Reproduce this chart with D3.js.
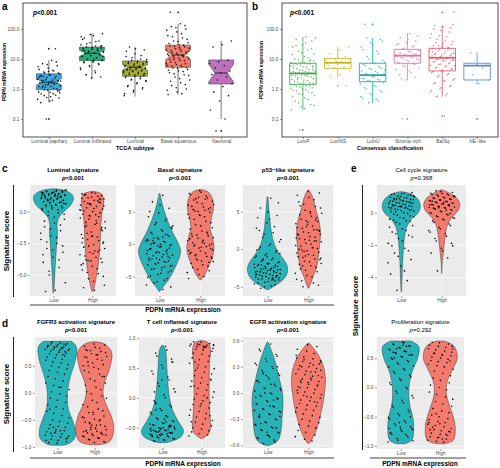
<!DOCTYPE html>
<html><head><meta charset="utf-8">
<script src="https://cdn.jsdelivr.net/npm/d3@7"></script>
<style>body{margin:0;background:#fff}svg{display:block}text{font-family:"Liberation Sans",Arial,Helvetica,sans-serif}</style>
</head><body><script>
const P = s => s.trim().split(/\s+/).map(Number);

// ---------- Panel a: TCGA subtype ----------
const aCats = ["Luminal papillary","Luminal infiltrated","Luminal","Basal squamous","Neuronal"];
const aColors = ["#3AA9E0","#22AF7D","#A4AD2B","#F47B6B","#BE70BE"];
const aQ1 = [0.95, 8.8, 2.65, 5.3, 1.47];
const aMed = [1.7, 15.5, 5.3, 13.6, 3.4];
const aQ3 = [3.2, 25, 8.6, 29, 9.3];
const aLo = [0.35, 2.3, 0.56, 0.65, 0.1];
const aHi = [9, 73, 25, 147, 40];
const aNotchLo = [1.35, 12, 4.3, 9.5, 1.7];
const aNotchHi = [2.2, 19.5, 6.4, 19.5, 6.8];
const aOut = [[22,0.1],[],[],[360],[0.04]];
const aPts = [
 "9 7 6 5 4.5 4 3.5 3.2 3 2.8 2.6 2.4 2.2 2.0 1.9 1.8 1.7 1.6 1.5 1.4 1.3 1.2 1.1 1.0 0.9 0.8 0.7 0.6 0.5 0.4 0.35 22 0.1 2.1 1.6 1.25 0.85 3.8 2.5 1.45 1.15 0.75 0.55 1.95 8 6.5 5.5 4.2 3.7 3.4 2.9 2.7 2.3 2.05 1.85 1.75 1.65 1.55 1.35 1.2 1.05 0.95 0.88 0.78 0.68 0.62 0.52 0.45 0.42 2.6 1.9 1.5",
 "70 60 50 40 35 30 27 25 23 21 20 19 18 17 16 15 14 13 12 11 10 9 8.5 8 7 6 5 4 3 2.5 2.3 45 22 16 12 9.5 18.5 14.5 65 55 38 32 28 24 22 20 18 17 16 15 14 13 12 11 10 9 8 7.5 6.5 5.5 4.5 3.5 3 26 21",
 "25 20 15 12 10 9 8 7.5 7 6.5 6 5.5 5.2 5 4.8 4.5 4.2 4 3.8 3.5 3.2 3 2.8 2.6 2.4 2.2 2 1.8 1.5 1.2 1 0.8 0.6 5.8 4.4 3.3 22 18 13 11 9.5 8.5 7.8 7.2 6.8 6.2 5.6 5.4 5.1 4.9 4.6 4.3 4.1 3.9 3.6 3.4 3.1 2.9 2.7 2.5 2.1 1.9 1.6 1.3 1.1 0.9 0.7",
 "150 120 100 80 60 50 40 35 30 27 25 22 20 18 16 15 14 13 12 11 10 9 8 7 6.5 6 5.5 5 4.5 4 3.5 3 2.5 2 1.6 1.3 1 0.8 0.65 13.5 9.5 18 24 360 130 110 90 70 55 45 38 33 29 26 23 21 19 17 15.5 14.5 13 12.5 11.5 10.5 9.8 8.8 7.5 7 6.2 5.8 5.2 4.8 4.2 3.8 3.2 2.8 2.2 1.8 1.4 1.1 0.9 0.7",
 "40 30 25 9 8 7 6 5 4 3.5 3 2.5 2 1.5 1.2 0.8 0.6 0.4 0.2 0.1 0.04"
];

// ---------- Panel b: Consensus classification ----------
const bCats = ["LumP","LumNS","LumU","Stroma\u2212rich","Ba/Sq","NE\u2212like"];
const bColors = ["#3DAA47","#C9B21E","#17AEAE","#DA77A3","#E45A6A","#5F8CD8"];
const bQ1 = [1.43, 4.9, 1.75, 7.2, 4.0, 2.0];
const bMed = [3.3, 7.5, 2.9, 12.9, 11, 6.0];
const bQ3 = [7.2, 10.5, 7.2, 21, 22.7, 7.2];
const bLo = [0.2, 2.4, 0.34, 2.0, 0.55, 1.4];
const bHi = [55, 25, 50, 72, 136, 16.7];
const bOut = [[0.043],[1.3],[143],[0.1],[360,0.125],[0.1]];
const bPts = [
 "55 45 40 30 25 20 18 15 12 10 9 8 7.5 7 6.5 6 5.5 5 4.5 4.2 4 3.8 3.5 3.3 3 2.8 2.6 2.4 2.2 2 1.8 1.6 1.5 1.4 1.3 1.2 1.1 1 0.9 0.8 0.7 0.6 0.5 0.4 0.3 0.25 0.2 3.1 2.1 5.2 1.7 6.2 8.5 0.043 50 35 28 22 16 14 11 9.5 8.8 7.8 7.2 6.8 6.3 5.8 5.3 4.8 4.4 4.1 3.9 3.6 3.4 3.2 2.9 2.7 2.5 2.3 2.1 1.9 1.7 1.55 1.45 1.35 1.25 1.15 1.05 0.95 0.85 0.75 0.65 0.55 0.45 0.35 0.28 0.22",
 "25 20 15 12 10 9 8 7.5 7 6.5 6 5.5 5 4 3 2.5 1.3 8.2 7.2",
 "50 40 30 20 15 10 8 7 6 5 4.5 4 3.5 3 2.8 2.5 2.2 2 1.8 1.5 1.2 1 0.8 0.6 0.5 0.4 0.35 3.2 2.7 143 45 35 25 18 12 9 7.5 6.5 5.5 4.8 4.2 3.8 3.3 3 2.6 2.3 2.1 1.9 1.6 1.3 1.1 0.9 0.7 0.55 0.45",
 "70 50 40 35 30 25 22 20 18 16 15 14 13 12 11 10 9 8 7 6 5 4 3 2.5 2 13.5 12.5 0.1 60 45 32 27 23 19 17 15.5 14.5 13 12 11 10.5 9.5 8.5 7.5 6.5 5.5 4.5 3.5 2.2",
 "140 120 100 80 60 50 40 35 30 25 22 20 18 16 15 14 13 12 11 10 9.5 9 8.5 8 7 6.5 6 5.5 5 4.5 4 3.5 3 2.5 2 1.8 1.5 1.2 1 0.8 0.6 0.55 11.5 10.5 17 24 28 360 0.125 130 110 90 70 55 45 38 32 27 23 21 19 17 15.5 14.5 13.5 12.5 11 10 9.2 8.7 8.2 7.5 6.8 6.2 5.8 5.2 4.8 4.2 3.8 3.2 2.8 2.2 1.9 1.6 1.3 1.1 0.9 0.7 0.58",
 "16 7 6.5 6 5 3 2 1.5"
];

// ---------- Panels c, d, e: signature scores ----------
const groups = ["Low","High"];
const groupColors = ["#25B3B7","#F47A6D"];
const sigNames = ["Luminal signature","Basal signature","p53\u2212like signature","Cell cycle signature",
  "FGFR3 activation signature","T cell inflamed signature","EGFR acitivation signature","Proliferation signature"];
const sigP = ["<0.001","<0.001","<0.001","=0.368","<0.001","<0.001","<0.001","=0.292"];
const sigDomain = [[-6.65,2.1],[-8,9.1],[-6.24,8.56],[-5.15,1.71],[-1.02,1.03],[-0.84,1.02],[-0.63,0.64],[-1.05,0.86]];
const sigTicks = [[-5,-2.5,0],[-5,0,5],[-5,0,5],[-4,-2,0],[-1,-0.5,0,0.5],[-0.5,0,0.5,1],[-0.6,-0.3,0,0.3,0.6],[-1,-0.5,0,0.5]];
const sigTickFmt = [".1f","d","d","d",".1f",".1f",".1f",".1f"];
// violin outline: [score, relative half-width]
const lowShape = [
 [[1.8,0.02],[1.7,0.5],[1.4,0.9],[1.1,1.0],[0.6,0.9],[0.1,0.6],[-0.4,0.3],[-1,0.18],[-1.6,0.2],[-2.5,0.16],[-3.5,0.12],[-4.5,0.08],[-5.5,0.05],[-6.4,0.02]],
 [[7.8,0.02],[6,0.15],[4,0.35],[2,0.62],[0,0.95],[-1,1.05],[-2,1.0],[-4,0.72],[-5.5,0.45],[-6.5,0.2],[-7.3,0.02]],
 [[7,0.02],[5,0.08],[3,0.15],[1,0.3],[0,0.45],[-1,0.7],[-2,0.95],[-3,1.0],[-4,0.8],[-4.8,0.4],[-5.4,0.03]],
 [[1.3,0.05],[1.15,0.5],[0.8,0.85],[0.4,0.95],[0,0.85],[-0.4,0.5],[-0.8,0.3],[-1.2,0.2],[-2,0.12],[-3,0.07],[-4,0.04],[-4.9,0.01]],
 [[0.95,0.7],[0.85,0.95],[0.6,0.9],[0.3,0.65],[0,0.5],[-0.3,0.55],[-0.5,0.75],[-0.7,0.9],[-0.85,0.85],[-0.95,0.5],[-0.97,0.2]],
 [[0.88,0.03],[0.8,0.15],[0.5,0.22],[0.2,0.28],[0,0.35],[-0.2,0.5],[-0.4,0.8],[-0.55,1.05],[-0.66,0.9],[-0.75,0.2]],
 [[0.58,0.03],[0.45,0.25],[0.3,0.45],[0.15,0.6],[0,0.75],[-0.15,0.77],[-0.3,0.72],[-0.45,0.66],[-0.55,0.5],[-0.6,0.1]],
 [[0.79,0.5],[0.7,0.9],[0.5,0.85],[0.3,0.6],[0.1,0.45],[-0.1,0.4],[-0.3,0.45],[-0.5,0.6],[-0.7,0.65],[-0.9,0.55],[-0.96,0.2]]
];
const highShape = [
 [[1.6,0.05],[1.4,0.45],[1.0,0.55],[0.5,0.55],[0,0.48],[-1,0.42],[-2.5,0.38],[-4,0.3],[-5,0.2],[-6,0.08],[-6.3,0.02]],
 [[8.4,0.05],[8.0,0.4],[7,0.6],[5.5,0.65],[4,0.55],[2.5,0.48],[1,0.6],[-0.5,0.68],[-2,0.6],[-3.5,0.4],[-4.8,0.2],[-5.5,0.03]],
 [[7.9,0.03],[7,0.2],[5,0.4],[3.5,0.55],[2,0.6],[0.5,0.55],[-1,0.5],[-2.5,0.4],[-3.5,0.25],[-4.5,0.12],[-5.2,0.02]],
 [[1.4,0.05],[1.2,0.4],[0.9,0.75],[0.5,0.9],[0.1,0.8],[-0.3,0.5],[-0.7,0.3],[-1.2,0.2],[-2,0.12],[-2.7,0.06],[-3.2,0.02],[-3.75,0.01]],
 [[0.94,0.1],[0.9,0.5],[0.75,0.85],[0.45,0.75],[0.2,0.5],[0,0.42],[-0.2,0.55],[-0.45,0.85],[-0.7,0.95],[-0.9,0.75],[-0.96,0.2]],
 [[0.96,0.05],[0.92,0.35],[0.8,0.45],[0.6,0.4],[0.3,0.38],[0,0.38],[-0.3,0.42],[-0.5,0.45],[-0.6,0.35],[-0.68,0.05]],
 [[0.57,0.03],[0.45,0.45],[0.3,0.75],[0.15,0.85],[0,0.8],[-0.15,0.7],[-0.3,0.55],[-0.45,0.35],[-0.55,0.12],[-0.58,0.02]],
 [[0.79,0.2],[0.7,0.7],[0.5,0.85],[0.3,0.6],[0.1,0.35],[-0.1,0.3],[-0.3,0.45],[-0.5,0.65],[-0.7,0.75],[-0.9,0.65],[-0.96,0.2]]
];
const lowPts = [
 "1.7 1.6 1.6 1.5 1.5 1.4 1.4 1.3 1.3 1.2 1.2 1.1 1.1 1.0 1.0 0.9 0.9 0.8 0.7 0.7 0.6 0.5 0.4 0.3 0.2 0.1 -0.1 -0.3 -0.6 -0.9 -1.2 -1.5 -1.9 -2.2 -2.5 -2.9 -3.2 -3.6 -4.0 -4.4 -5.0 -5.6 -6.2 -6.3 1.65 1.45 1.25 1.05 0.85 0.65 1.55 1.35 1.15 0.95 1.72 1.62 1.58 1.52 1.48 1.42 1.38 1.32 1.28 1.22 1.18 1.12 1.08 1.02 0.98 0.92 0.88 0.82 0.78 0.72 0.68 0.62 0.58 0.52 0.45 0.35 0.25 0.15 0.0 -0.2 -0.45 -0.75 -1.05 -1.35 -1.7 -2.05 -2.4 -2.7 -3.0 -3.4 -3.8 -4.7 1.68 1.36 1.04 0.76 0.48 1.5 1.2 0.9",
 "7.5 6.5 5.5 4.8 4.2 3.6 3.0 2.6 2.2 1.8 1.4 1.0 0.7 0.4 0.1 -0.2 -0.5 -0.8 -1.1 -1.4 -1.7 -2.0 -2.3 -2.6 -2.9 -3.2 -3.5 -3.8 -4.1 -4.5 -4.9 -5.3 -5.8 -6.3 -7.0 0.5 -0.6 -1.3 -2.2 1.5 -3.0 2.4 -4.0 0.0 -1.9 -0.3 -1.0 -2.7 0.9 -3.4 6.0 5.0 3.9 3.3 2.8 2.0 1.6 1.2 0.8 0.6 0.3 0.2 -0.1 -0.4 -0.7 -0.9 -1.2 -1.5 -1.6 -1.8 -2.1 -2.4 -2.5 -2.8 -3.1 -3.3 -3.6 -3.9 -4.3 -4.7 -5.1 -5.6 -6.0 -6.6 -0.05 -0.75 -1.45 -2.15 0.45 1.1",
 "6.8 5.5 4.5 3.5 2.8 2.2 1.6 1.0 0.5 0.0 -0.4 -0.8 -1.1 -1.4 -1.6 -1.8 -2.0 -2.2 -2.4 -2.6 -2.7 -2.8 -3.0 -3.1 -3.2 -3.4 -3.5 -3.6 -3.8 -3.9 -4.0 -4.2 -4.4 -4.6 -4.9 -5.2 -2.3 -1.9 -3.3 -2.9 -1.3 -0.6 4.0 2.5 -3.7 -2.5 -3.05 -4.1 -2.1 6.2 5.0 4.2 3.0 2.0 1.3 0.7 0.3 -0.2 -0.6 -0.9 -1.2 -1.5 -1.7 -1.9 -2.05 -2.15 -2.3 -2.45 -2.55 -2.65 -2.75 -2.85 -2.95 -3.05 -3.15 -3.25 -3.35 -3.45 -3.55 -3.65 -3.75 -3.85 -3.95 -4.1 -4.3 -4.5 -4.75 -5.0 -2.0 -2.6 -3.0 -3.5 -1.0 -0.1 -4.0",
 "1.2 1.15 1.1 1.0 0.95 0.9 0.85 0.8 0.75 0.7 0.65 0.6 0.55 0.5 0.45 0.4 0.35 0.3 0.25 0.2 0.1 0.0 -0.1 -0.2 -0.3 -0.4 -0.5 -0.6 -0.8 -1.0 -1.2 -1.4 -1.6 -1.9 -2.2 -2.5 -2.9 -3.3 -3.8 -4.2 -4.8 1.05 0.72 0.42 0.15 0.88 0.58 0.33 0.05 1.25 1.18 1.12 1.08 1.02 0.98 0.92 0.88 0.82 0.78 0.72 0.68 0.62 0.58 0.52 0.48 0.42 0.38 0.32 0.28 0.22 0.18 0.12 0.05 -0.05 -0.15 -0.25 -0.35 -0.45 -0.55 -0.7 -0.9 -1.1 -1.3 -1.5 -1.75 -2.05 -2.35 -2.7 -3.1 -3.6 0.8 0.6 0.4 0.2",
 "0.92 0.9 0.88 0.86 0.84 0.82 0.8 0.78 0.75 0.72 0.68 0.64 0.6 0.55 0.5 0.44 0.38 0.3 0.22 0.14 0.06 -0.02 -0.1 -0.18 -0.26 -0.34 -0.42 -0.5 -0.56 -0.62 -0.66 -0.7 -0.74 -0.78 -0.82 -0.86 -0.9 -0.93 0.87 0.7 -0.64 -0.8 0.1 -0.3 0.76 -0.72 -0.88 0.83 0.93 0.91 0.89 0.87 0.85 0.83 0.81 0.79 0.77 0.73 0.7 0.66 0.62 0.57 0.52 0.47 0.41 0.34 0.26 0.18 0.1 0.02 -0.06 -0.14 -0.22 -0.3 -0.38 -0.46 -0.53 -0.59 -0.64 -0.68 -0.72 -0.76 -0.8 -0.84 -0.88 -0.92 0.9 0.85 0.8 -0.7 -0.75 -0.85",
 "0.86 0.75 0.65 0.55 0.45 0.35 0.25 0.15 0.05 -0.05 -0.12 -0.18 -0.24 -0.3 -0.34 -0.38 -0.42 -0.45 -0.48 -0.5 -0.52 -0.54 -0.56 -0.58 -0.6 -0.62 -0.64 -0.66 -0.68 -0.7 -0.72 -0.46 -0.55 -0.61 -0.4 -0.2 0.6 0.3 -0.65 -0.53 -0.57 -0.49 -0.36 0.1 -0.59 -0.63 -0.51 0.8 0.7 0.6 0.5 0.4 0.3 0.2 0.1 0.0 -0.08 -0.15 -0.21 -0.27 -0.32 -0.36 -0.4 -0.43 -0.46 -0.49 -0.51 -0.53 -0.55 -0.57 -0.59 -0.61 -0.63 -0.65 -0.67 -0.69 -0.71 -0.73 -0.47 -0.52 -0.56 -0.6 -0.64 -0.68 -0.5 -0.54 -0.58 -0.62 -0.44 -0.3 -0.1",
 "0.56 0.48 0.42 0.36 0.32 0.28 0.24 0.2 0.16 0.12 0.08 0.05 0.02 -0.01 -0.04 -0.07 -0.1 -0.13 -0.16 -0.19 -0.22 -0.25 -0.28 -0.31 -0.34 -0.37 -0.4 -0.43 -0.46 -0.49 -0.52 -0.56 0.0 -0.2 0.1 -0.35 0.3 -0.45 0.14 -0.08 0.22 -0.27 -0.5 0.5 0.44 0.39 0.34 0.3 0.26 0.22 0.18 0.14 0.1 0.06 0.03 0.0 -0.03 -0.06 -0.09 -0.12 -0.15 -0.18 -0.21 -0.24 -0.27 -0.3 -0.33 -0.36 -0.39 -0.42 -0.45 -0.48 -0.51 -0.54 -0.58 0.05 -0.15 -0.25 -0.4 0.2 -0.05",
 "0.76 0.73 0.7 0.67 0.64 0.61 0.58 0.55 0.52 0.48 0.44 0.4 0.35 0.3 0.24 0.18 0.12 0.05 -0.02 -0.1 -0.18 -0.26 -0.34 -0.42 -0.48 -0.54 -0.6 -0.65 -0.7 -0.75 -0.8 -0.85 -0.9 -0.93 0.62 0.5 -0.5 -0.68 -0.78 0.7 0.66 -0.72 0.77 0.74 0.71 0.68 0.65 0.62 0.59 0.56 0.53 0.5 0.46 0.42 0.37 0.32 0.27 0.21 0.15 0.08 0.0 -0.06 -0.14 -0.22 -0.3 -0.38 -0.45 -0.51 -0.57 -0.62 -0.67 -0.72 -0.77 -0.82 -0.87 -0.91 0.72 0.6 0.55 -0.6 -0.7 -0.8"
];
const highPts = [
 "1.5 1.4 1.2 1.1 1.0 0.9 0.8 0.7 0.6 0.5 0.4 0.3 0.2 0.0 -0.2 -0.4 -0.6 -0.8 -1.0 -1.2 -1.4 -1.6 -1.8 -2.0 -2.2 -2.4 -2.6 -2.8 -3.0 -3.2 -3.4 -3.6 -3.8 -4.0 -4.3 -4.6 -4.9 -5.3 -5.8 -6.2 1.3 0.95 0.55 0.1 -0.9 -1.7 -2.5 -3.3 -4.1 0.75 -0.3 -1.3 1.45 1.35 1.25 1.15 1.05 0.85 0.65 0.45 0.25 0.05 -0.1 -0.35 -0.5 -0.7 -1.1 -1.5 -1.9 -2.1 -2.3 -2.7 -2.9 -3.1 -3.5 -3.7 -3.9 -4.2 -4.5 -4.8 -5.1 -5.5 -6.0 1.0 0.6 0.15 -0.25 -0.85 -1.25 -1.95 -2.45 -3.15 -3.85",
 "8.2 7.8 7.4 7.0 6.6 6.2 5.8 5.4 5.0 4.6 4.2 3.8 3.3 2.8 2.3 1.8 1.4 1.0 0.6 0.2 -0.2 -0.6 -1.0 -1.4 -1.8 -2.2 -2.6 -3.0 -3.4 -3.9 -4.4 -5.0 6.8 5.6 4.4 0.8 -0.4 -1.6 -0.9 0.3 1.2 -2.8 7.2 6.0 5.2 -0.1 -2.0 8.0 7.6 7.1 6.4 6.1 5.7 5.3 4.9 4.5 4.0 3.5 3.0 2.5 2.0 1.6 1.2 0.9 0.5 0.1 -0.3 -0.7 -1.1 -1.5 -1.9 -2.3 -2.7 -3.2 -3.6 -4.1 -4.7 -5.3 6.9 5.1 0.0 -0.5 -1.3 1.5 -2.5",
 "7.7 7.2 6.6 6.0 5.5 5.0 4.6 4.2 3.8 3.4 3.1 2.8 2.5 2.2 1.9 1.6 1.3 1.0 0.7 0.4 0.1 -0.2 -0.5 -0.8 -1.1 -1.4 -1.7 -2.0 -2.4 -2.8 -3.2 -3.7 -4.2 -4.8 3.6 2.0 1.1 -0.3 -1.2 4.8 5.8 2.6 3.0 1.5 0.2 -2.2 7.5 6.9 6.3 5.7 5.2 4.8 4.4 4.0 3.7 3.3 2.9 2.6 2.3 2.0 1.7 1.4 1.1 0.8 0.5 0.2 -0.1 -0.4 -0.7 -1.0 -1.3 -1.6 -1.9 -2.2 -2.6 -3.0 -3.5 -4.0 -4.5 -5.0 2.4 1.2 0.0 3.9 -0.9",
 "1.3 1.2 1.15 1.1 1.0 0.95 0.9 0.85 0.8 0.75 0.7 0.65 0.6 0.55 0.5 0.45 0.4 0.35 0.3 0.25 0.2 0.1 0.0 -0.1 -0.2 -0.3 -0.4 -0.5 -0.7 -0.9 -1.1 -1.3 -1.6 -1.9 -2.2 -2.5 -2.8 -3.6 1.05 0.62 0.28 -0.05 0.78 0.48 0.15 1.35 1.25 1.18 1.12 1.08 1.02 0.98 0.92 0.88 0.82 0.78 0.72 0.68 0.62 0.58 0.52 0.48 0.42 0.38 0.32 0.28 0.22 0.15 0.05 -0.05 -0.15 -0.25 -0.35 -0.45 -0.6 -0.8 -1.0 -1.2 -1.45 -1.75 -2.05 -2.35 0.7 0.5 0.3",
 "0.9 0.86 0.82 0.78 0.74 0.7 0.65 0.6 0.55 0.5 0.44 0.38 0.3 0.22 0.14 0.06 -0.02 -0.1 -0.18 -0.26 -0.33 -0.4 -0.46 -0.52 -0.57 -0.62 -0.66 -0.7 -0.73 -0.76 -0.8 -0.83 -0.86 -0.9 -0.92 0.66 -0.5 -0.68 -0.78 -0.6 0.78 0.3 -0.36 -0.72 -0.84 -0.55 0.88 0.84 0.8 0.76 0.72 0.67 0.62 0.57 0.52 0.47 0.41 0.34 0.26 0.18 0.1 0.02 -0.06 -0.14 -0.22 -0.3 -0.37 -0.43 -0.49 -0.54 -0.59 -0.64 -0.68 -0.71 -0.74 -0.77 -0.79 -0.81 -0.84 -0.87 -0.91 -0.65 -0.7 -0.75 -0.6 -0.45 0.7 0.5",
 "0.93 0.9 0.88 0.86 0.83 0.8 0.75 0.7 0.64 0.58 0.52 0.46 0.4 0.34 0.28 0.22 0.16 0.1 0.04 -0.02 -0.08 -0.14 -0.2 -0.26 -0.32 -0.38 -0.44 -0.5 -0.55 -0.6 -0.64 0.85 0.6 0.3 -0.1 -0.4 0.0 0.5 0.89 0.87 0.94 0.91 0.89 0.87 0.85 0.82 0.78 0.73 0.67 0.61 0.55 0.49 0.43 0.37 0.31 0.25 0.19 0.13 0.07 0.01 -0.05 -0.11 -0.17 -0.23 -0.29 -0.35 -0.41 -0.47 -0.52 -0.57 -0.62 0.9 0.88 0.84 0.2 -0.3",
 "0.55 0.5 0.45 0.41 0.37 0.34 0.31 0.28 0.25 0.22 0.19 0.16 0.13 0.1 0.07 0.04 0.01 -0.02 -0.05 -0.08 -0.11 -0.14 -0.17 -0.2 -0.24 -0.28 -0.32 -0.36 -0.4 -0.45 -0.5 -0.55 0.3 0.2 0.12 0.0 -0.1 0.38 0.26 0.17 0.06 0.53 0.48 0.43 0.39 0.36 0.33 0.3 0.27 0.24 0.21 0.18 0.15 0.12 0.09 0.06 0.03 0.0 -0.03 -0.06 -0.09 -0.12 -0.15 -0.19 -0.22 -0.26 -0.3 -0.34 -0.38 -0.43 -0.48 -0.53 0.35 0.24 0.14 0.08 -0.04 0.4 0.32",
 "0.76 0.72 0.68 0.64 0.6 0.56 0.52 0.48 0.44 0.4 0.35 0.28 0.2 0.12 0.04 -0.04 -0.12 -0.2 -0.28 -0.36 -0.43 -0.5 -0.55 -0.6 -0.65 -0.7 -0.74 -0.78 -0.82 -0.86 -0.9 -0.93 0.58 0.45 -0.62 -0.72 -0.8 -0.45 0.7 -0.88 0.77 0.74 0.7 0.66 0.62 0.58 0.54 0.5 0.46 0.42 0.37 0.31 0.24 0.16 0.08 0.0 -0.08 -0.16 -0.24 -0.32 -0.4 -0.47 -0.53 -0.58 -0.63 -0.67 -0.72 -0.76 -0.8 -0.84 -0.88 -0.92 0.65 0.55 -0.68 -0.75 -0.85 -0.6"
];

// ---------- drawing ----------
const svg = d3.select("body").append("svg").attr("width",500).attr("height",468);
const FONT_TICK = 4.8, TICK_COL = "#4D4D4D";
const jit = i => (((i+1)*0.6180339887) % 1) * 2 - 1;

function txt(g, x, y, s, o={}) {
  const t = g.append("text").attr("x",x).attr("y",y).text(s)
    .attr("font-size",o.size||5).attr("fill",o.fill||"#000")
    .attr("text-anchor",o.anchor||"middle");
  if (o.bold) t.attr("font-weight","bold");
  if (o.rot) t.attr("transform",`rotate(-90,${x},${y})`);
  return t;
}
function pText(g, x, y, rest, size, bold, anchor) {
  const t = g.append("text").attr("x",x).attr("y",y).attr("font-size",size)
    .attr("text-anchor",anchor||"middle").attr("font-weight",bold?"bold":"normal");
  t.append("tspan").attr("font-style","italic").text("p");
  t.append("tspan").text(rest);
}
function styleAxis(g){
  g.select(".domain").remove();
  g.selectAll(".tick line").attr("stroke","#333").attr("stroke-width",0.5);
  g.selectAll(".tick text").attr("font-size",FONT_TICK).attr("fill",TICK_COL)
    .attr("font-family",'"Liberation Sans",Arial,sans-serif');
}

function boxPanel(o){
  const g = svg.append("g");
  const x = d3.scalePoint().domain(o.cats).range([o.x0,o.x1]).padding(0.6);
  const y = d3.scaleLog().domain([0.0251,736]).range([o.y1,o.y0]);
  const step = x.step(), hw = step*o.bw/2;
  g.append("rect").attr("x",o.x0).attr("y",o.y0).attr("width",o.x1-o.x0).attr("height",o.y1-o.y0)
    .attr("fill","#fff").attr("stroke","#222").attr("stroke-width",0.8);
  const ya = g.append("g").attr("transform",`translate(${o.x0},0)`)
    .call(d3.axisLeft(y).tickValues([0.1,1,10,100]).tickFormat(d3.format(".1f")).tickSize(2).tickPadding(1.5));
  styleAxis(ya);
  const xa = g.append("g").attr("transform",`translate(0,${o.y1})`)
    .call(d3.axisBottom(x).tickSize(2).tickPadding(1));
  styleAxis(xa);
  o.cats.forEach((c,i)=>{
    const cx = x(c), col = o.colors[i];
    const lineCol = o.filled ? "#555" : col;
    g.append("line").attr("x1",cx).attr("x2",cx).attr("y1",y(o.hi[i])).attr("y2",y(o.q3[i])).attr("stroke",lineCol).attr("stroke-width",0.8);
    g.append("line").attr("x1",cx).attr("x2",cx).attr("y1",y(o.q1[i])).attr("y2",y(o.lo[i])).attr("stroke",lineCol).attr("stroke-width",0.8);
    let pts;
    if (o.notchLo) {
      const nl=y(o.notchLo[i]), nh=y(o.notchHi[i]), m=y(o.med[i]);
      pts = [[cx-hw,y(o.q3[i])],[cx+hw,y(o.q3[i])],[cx+hw,nh],[cx+hw/2,m],[cx+hw,nl],[cx+hw,y(o.q1[i])],
             [cx-hw,y(o.q1[i])],[cx-hw,nl],[cx-hw/2,m],[cx-hw,nh]];
    } else {
      pts = [[cx-hw,y(o.q3[i])],[cx+hw,y(o.q3[i])],[cx+hw,y(o.q1[i])],[cx-hw,y(o.q1[i])]];
    }
    g.append("path").attr("d",d3.line()(pts)+"Z")
      .attr("fill",o.filled?col:"#fff").attr("stroke",o.filled?"#444":col).attr("stroke-width",o.filled?0.6:0.9);
    const mhw = o.notchLo ? hw/2 : hw;
    g.append("line").attr("x1",cx-mhw).attr("x2",cx+mhw).attr("y1",y(o.med[i])).attr("y2",y(o.med[i]))
      .attr("stroke",o.filled?"#333":col).attr("stroke-width",o.filled?1.1:1.8);
    o.outs[i].forEach(v=>{
      g.append("circle").attr("cx",cx).attr("cy",y(v)).attr("r",0.9).attr("fill",o.filled?"#222":col);
    });
    P(o.pts[i]).forEach((v,k)=>{
      g.append("circle").attr("cx",cx + jit(k+i*7)*hw*0.95).attr("cy",y(v)).attr("r",o.filled?0.8:0.75)
        .attr("fill",o.filled?"#111":col).attr("fill-opacity",o.filled?1:0.85);
    });
  });
  return g;
}

// Panel a
boxPanel({x0:23,x1:247,y0:3,y1:137,cats:aCats,colors:aColors,q1:aQ1,med:aMed,q3:aQ3,lo:aLo,hi:aHi,
  notchLo:aNotchLo,notchHi:aNotchHi,outs:aOut,pts:aPts,bw:0.58,filled:true});
txt(svg,2,10,"a",{size:10,bold:true,anchor:"start"});
pText(svg,33,15,"<0.001",6.5,true,"start");
txt(svg,6,72,"PDPN mRNA expression",{size:5,bold:true,rot:true});
txt(svg,135,150,"TCGA subtype",{size:5.5,bold:true});

// Panel b
boxPanel({x0:282,x1:498,y0:3,y1:137,cats:bCats,colors:bColors,q1:bQ1,med:bMed,q3:bQ3,lo:bLo,hi:bHi,
  outs:bOut,pts:bPts,bw:0.76,filled:false});
txt(svg,252,10,"b",{size:10,bold:true,anchor:"start"});
pText(svg,290,15,"<0.001",6.5,true,"start");
txt(svg,263,70,"PDPN mRNA expression",{size:5,bold:true,rot:true});
txt(svg,390,150,"Consensus classification",{size:5.5,bold:true});

// Violin panels
const layout = [
  {x0:30,x1:116,y0:185,y1:296,bold:true},{x0:135,x1:225,y0:185,y1:296,bold:true},{x0:243,x1:333,y0:185,y1:296,bold:true},
  {x0:377,x1:466,y0:185,y1:296,bold:false},
  {x0:35,x1:117,y0:337,y1:448,bold:true},{x0:139,x1:225,y0:337,y1:448,bold:true},{x0:243,x1:333,y0:337,y1:448,bold:true},
  {x0:377,x1:464,y0:337,y1:449,bold:false}
];
sigNames.forEach((name,k)=>{
  const L = layout[k];
  const g = svg.append("g");
  const x = d3.scalePoint().domain(groups).range([L.x0,L.x1]).padding(0.6);
  const y = d3.scaleLinear().domain(sigDomain[k]).range([L.y1,L.y0]);
  g.append("rect").attr("x",L.x0).attr("y",L.y0).attr("width",L.x1-L.x0).attr("height",L.y1-L.y0).attr("fill","#EBEBEB");
  const tk = sigTicks[k];
  for (let j=0;j<tk.length-1;j++){
    const m=(tk[j]+tk[j+1])/2;
    g.append("line").attr("x1",L.x0).attr("x2",L.x1).attr("y1",y(m)).attr("y2",y(m)).attr("stroke","#fff").attr("stroke-width",0.3).attr("opacity",0.7);
  }
  tk.forEach(t=>g.append("line").attr("x1",L.x0).attr("x2",L.x1).attr("y1",y(t)).attr("y2",y(t)).attr("stroke","#fff").attr("stroke-width",0.6));
  groups.forEach(gr=>g.append("line").attr("x1",x(gr)).attr("x2",x(gr)).attr("y1",L.y0).attr("y2",L.y1).attr("stroke","#fff").attr("stroke-width",0.6));
  const mhw = 20;
  [lowShape[k],highShape[k]].forEach((shape,gi)=>{
    const cx = x(groups[gi]);
    const area = d3.area().curve(d3.curveCatmullRom)
      .y(d=>y(d[0])).x0(d=>cx-d[1]*mhw).x1(d=>cx+d[1]*mhw);
    g.append("path").attr("d",area(shape)).attr("fill",groupColors[gi]).attr("stroke","#3A3A3A").attr("stroke-width",0.5);
  });
  [lowPts[k],highPts[k]].forEach((s,gi)=>{
    const cx = x(groups[gi]);
    P(s).forEach((v,i)=>{
      g.append("circle").attr("cx",cx+jit(i+gi*3)*x.step()*0.33).attr("cy",y(v)).attr("r",0.8).attr("fill","#000");
    });
  });
  const ya = g.append("g").attr("transform",`translate(${L.x0},0)`)
    .call(d3.axisLeft(y).tickValues(tk).tickFormat(d3.format(sigTickFmt[k])).tickSize(2).tickPadding(1.5));
  styleAxis(ya);
  const xa = g.append("g").attr("transform",`translate(0,${L.y1})`)
    .call(d3.axisBottom(x).tickSize(2).tickPadding(1));
  styleAxis(xa);
  const cxm = (L.x0+L.x1)/2;
  txt(g,cxm,L.y0-13,name,{size:6,bold:L.bold});
  pText(g,cxm,L.y0-5.5,sigP[k],6,L.bold);
});

// Panel letters & shared titles
txt(svg,2,172,"c",{size:10,bold:true,anchor:"start"});
txt(svg,2,327,"d",{size:10,bold:true,anchor:"start"});
txt(svg,351,172,"e",{size:10,bold:true,anchor:"start"});
function vline(x,y1,y2){svg.append("line").attr("x1",x).attr("x2",x).attr("y1",y1).attr("y2",y2).attr("stroke","#222").attr("stroke-width",1);}
function hline(y,x1,x2){svg.append("line").attr("x1",x1).attr("x2",x2).attr("y1",y).attr("y2",y).attr("stroke","#444").attr("stroke-width",1.2);}
vline(13.5,185,297); vline(13.5,337,452); vline(362.5,185,450);
hline(305,30,334); hline(458,30,334); hline(458,370,466);
txt(svg,9,241,"Signature score",{size:8,bold:true,rot:true});
txt(svg,9,394,"Signature score",{size:8,bold:true,rot:true});
txt(svg,358,306,"Signature score",{size:8,bold:true,rot:true});
txt(svg,183,312,"PDPN mRNA expression",{size:6.5,bold:true});
txt(svg,183,466,"PDPN mRNA expression",{size:6.5,bold:true});
txt(svg,420,466,"PDPN mRNA expression",{size:6.5,bold:true});
</script></body></html>
